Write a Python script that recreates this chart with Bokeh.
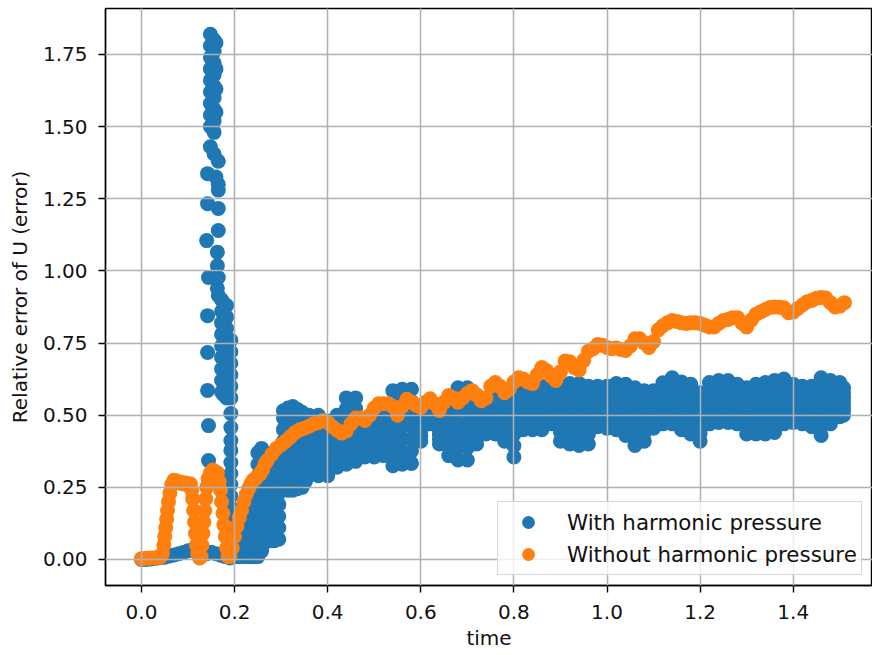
from bokeh.plotting import figure
from bokeh.models import (ColumnDataSource, Range1d, FixedTicker, PrintfTickFormatter,
                          Legend, LegendItem)
from bokeh.embed import file_html
from bokeh.resources import INLINE

# ---------------- data ----------------
x_ticks = [0.0, 0.2, 0.4, 0.6, 0.8, 1.0, 1.2, 1.4]
y_ticks = [0.0, 0.25, 0.5, 0.75, 1.0, 1.25, 1.5, 1.75]
series_names = ["With harmonic pressure", "Without harmonic pressure"]

# "Without harmonic pressure" (orange)
orange_t = [0.000, 0.010, 0.020, 0.030, 0.040, 0.045, 0.048, 0.050, 0.052, 0.054, 0.056, 0.058,
            0.061, 0.065, 0.070, 0.075, 0.080, 0.085, 0.090, 0.095, 0.100, 0.105, 0.108, 0.110,
            0.112, 0.114, 0.116, 0.118, 0.121, 0.125, 0.128, 0.130, 0.132, 0.134, 0.136, 0.138,
            0.140, 0.143, 0.148, 0.153, 0.158, 0.163, 0.167, 0.170, 0.172, 0.175, 0.177, 0.180,
            0.183, 0.186, 0.190, 0.195, 0.200, 0.205, 0.210, 0.215, 0.220, 0.225, 0.230, 0.235,
            0.240, 0.245, 0.250, 0.255, 0.260, 0.265, 0.270, 0.280, 0.290, 0.300, 0.310, 0.320,
            0.330, 0.340, 0.350, 0.360, 0.370, 0.380, 0.390, 0.400, 0.410, 0.420, 0.430, 0.440,
            0.450, 0.460, 0.470, 0.480, 0.490, 0.500, 0.510, 0.520, 0.530, 0.540, 0.550, 0.560,
            0.570, 0.580, 0.590, 0.600, 0.610, 0.620, 0.630, 0.640, 0.650, 0.660, 0.670, 0.680,
            0.690, 0.700, 0.710, 0.720, 0.730, 0.740, 0.750, 0.760, 0.770, 0.780, 0.790, 0.800,
            0.810, 0.820, 0.830, 0.840, 0.850, 0.860, 0.870, 0.880, 0.890, 0.900, 0.910, 0.920,
            0.930, 0.940, 0.950, 0.960, 0.970, 0.980, 0.990, 1.000, 1.010, 1.020, 1.030, 1.040,
            1.050, 1.060, 1.070, 1.080, 1.090, 1.100, 1.110, 1.120, 1.130, 1.140, 1.150, 1.160,
            1.170, 1.180, 1.190, 1.200, 1.210, 1.220, 1.230, 1.240, 1.250, 1.260, 1.270, 1.280,
            1.290, 1.300, 1.310, 1.320, 1.330, 1.340, 1.350, 1.360, 1.370, 1.380, 1.390, 1.400,
            1.410, 1.420, 1.430, 1.440, 1.450, 1.460, 1.470, 1.480, 1.490, 1.500, 1.510]
orange_v = [0.003, 0.004, 0.005, 0.006, 0.008, 0.02, 0.05, 0.08, 0.11, 0.14, 0.17, 0.20,
            0.23, 0.26, 0.275, 0.272, 0.265, 0.268, 0.262, 0.265, 0.258, 0.262, 0.24, 0.21,
            0.17, 0.13, 0.09, 0.05, 0.02, 0.005, 0.01, 0.05, 0.09, 0.13, 0.17, 0.21,
            0.25, 0.28, 0.30, 0.31, 0.305, 0.30, 0.27, 0.24, 0.20, 0.16, 0.12, 0.08,
            0.04, 0.01, 0.01, 0.04, 0.08, 0.115, 0.145, 0.17, 0.20, 0.225, 0.245, 0.262,
            0.275, 0.28, 0.29, 0.297, 0.31, 0.33, 0.343, 0.365, 0.385, 0.398, 0.41, 0.425,
            0.44, 0.45, 0.455, 0.462, 0.47, 0.475, 0.482, 0.475, 0.46, 0.448, 0.438, 0.445,
            0.47, 0.49, 0.49, 0.482, 0.50, 0.525, 0.54, 0.54, 0.54, 0.53, 0.50, 0.53,
            0.555, 0.545, 0.535, 0.527, 0.545, 0.557, 0.54, 0.516, 0.545, 0.568, 0.56, 0.545,
            0.56, 0.575, 0.585, 0.57, 0.55, 0.56, 0.60, 0.613, 0.60, 0.578, 0.59, 0.615,
            0.63, 0.625, 0.615, 0.61, 0.64, 0.665, 0.655, 0.635, 0.62, 0.65, 0.688, 0.685,
            0.665, 0.657, 0.69, 0.722, 0.73, 0.745, 0.742, 0.735, 0.73, 0.733, 0.728, 0.724,
            0.74, 0.765, 0.765, 0.75, 0.735, 0.755, 0.795, 0.81, 0.82, 0.828, 0.825, 0.82,
            0.818, 0.82, 0.82, 0.818, 0.812, 0.806, 0.806, 0.818, 0.828, 0.832, 0.838, 0.838,
            0.82, 0.806, 0.83, 0.85, 0.858, 0.866, 0.873, 0.875, 0.874, 0.872, 0.855, 0.858,
            0.87, 0.882, 0.893, 0.898, 0.905, 0.908, 0.906, 0.89, 0.875, 0.878, 0.89]

# "With harmonic pressure" (blue): near-zero start
blue_base_t = [0.00, 0.01, 0.02, 0.03, 0.04, 0.05, 0.06, 0.07, 0.08, 0.09,
               0.10, 0.11, 0.12, 0.13, 0.14, 0.15, 0.16, 0.17, 0.18, 0.19]
blue_base_v = [0.0, 0.0, 0.002, 0.004, 0.006, 0.008, 0.012, 0.016, 0.02, 0.024,
               0.03, 0.034, 0.03, 0.025, 0.02, 0.025, 0.02, 0.015, 0.01, 0.005]

# blue: spike and early rise, values read per time column
blue_col_t = [0.140, 0.142, 0.144, 0.148, 0.156, 0.160, 0.163, 0.165, 0.172, 0.177, 0.183, 0.192,
              0.200, 0.210, 0.220, 0.230, 0.240, 0.250, 0.258, 0.266, 0.275, 0.285, 0.295,
              0.305, 0.315, 0.325, 0.335, 0.345, 0.352]
blue_col_v = [
    [1.105],
    [1.337, 1.233, 0.845, 0.717, 0.586],
    [0.977, 0.464, 0.343],
    [1.82, 1.78, 1.74, 1.70, 1.66, 1.62, 1.58, 1.54, 1.50, 1.43],
    [1.80, 1.76, 1.72, 1.68, 1.64, 1.60, 1.56, 1.52, 1.48, 1.405],
    [1.79, 1.70, 1.63, 1.55, 1.325],
    [1.065, 1.018, 0.94],
    [1.38, 1.30, 1.28, 1.216, 1.14, 0.977, 0.915],
    [0.90, 0.86, 0.82, 0.78, 0.74, 0.70, 0.66, 0.62, 0.58],
    [0.887, 0.85, 0.81, 0.77, 0.73, 0.69, 0.65, 0.61, 0.57],
    [0.88, 0.84, 0.80, 0.76, 0.72, 0.68, 0.64, 0.60, 0.56],
    [0.76, 0.72, 0.68, 0.64, 0.60, 0.56, 0.506, 0.457, 0.412, 0.378, 0.336, 0.298,
     0.26, 0.22, 0.18, 0.14, 0.10, 0.06, 0.02],
    [0.01, 0.04],
    [0.01, 0.05, 0.09, 0.12],
    [0.01, 0.05, 0.09, 0.13, 0.17],
    [0.01, 0.05, 0.09, 0.13, 0.17, 0.21],
    [0.01, 0.05, 0.09, 0.13, 0.17, 0.21, 0.24],
    [0.01, 0.05, 0.09, 0.13, 0.17, 0.21, 0.25, 0.29, 0.33, 0.37],
    [0.03, 0.07, 0.11, 0.15, 0.19, 0.23, 0.27, 0.31, 0.35, 0.385],
    [0.06, 0.10, 0.14, 0.18, 0.22, 0.26, 0.30, 0.34, 0.37],
    [0.065, 0.10, 0.14, 0.18, 0.22, 0.26, 0.30, 0.34],
    [0.065, 0.10, 0.14, 0.18, 0.22, 0.26, 0.30, 0.34, 0.37],
    [0.07, 0.11, 0.15, 0.19, 0.23, 0.27, 0.31, 0.35, 0.38],
    [0.25, 0.29, 0.33, 0.37, 0.41, 0.45, 0.49, 0.515],
    [0.24, 0.28, 0.32, 0.36, 0.40, 0.44, 0.48, 0.525],
    [0.24, 0.28, 0.32, 0.36, 0.40, 0.44, 0.48, 0.53],
    [0.245, 0.285, 0.325, 0.365, 0.405, 0.445, 0.485, 0.52],
    [0.25, 0.29, 0.33, 0.37, 0.41, 0.45, 0.49, 0.51],
    [0.27, 0.31, 0.35, 0.39, 0.43, 0.47, 0.50],
]

# blue: main band, read from top edge (r1) to bottom edge (r7)
band_t = [0.36, 0.38, 0.40, 0.42, 0.44, 0.46, 0.48, 0.50, 0.52, 0.54, 0.56, 0.58, 0.60, 0.62,
          0.64, 0.66, 0.68, 0.70, 0.72, 0.74, 0.76, 0.78, 0.80, 0.82, 0.84, 0.86, 0.88, 0.90,
          0.92, 0.94, 0.96, 0.98, 1.00, 1.02, 1.04, 1.06, 1.08, 1.10, 1.12, 1.14, 1.16, 1.18,
          1.20, 1.22, 1.24, 1.26, 1.28, 1.30, 1.32, 1.34, 1.36, 1.38, 1.40, 1.42, 1.44, 1.46,
          1.48, 1.50, 1.508]
band_r1 = [.50, .50, .48, .50, .56, .56, .48, .50, .50, .585, .59, .59, .52, .53, .50, .54, .595, .595,
           .57, .54, .58, .56, .59, .60, .60, .60, .60, .60, .61, .61, .60, .60, .60, .61, .607, .595,
           .585, .585, .612, .63, .615, .607, .578, .613, .62, .62, .607, .595, .607, .613, .62, .625,
           .607, .60, .60, .63, .62, .613, .595]
band_r2 = [.465, .465, .448, .47, .522, .523, .459, .476, .477, .542, .547, .547, .502, .52, .483, .51,
           .553, .553, .542, .523, .556, .535, .551, .575, .575, .575, .578, .568, .575, .574, .567,
           .577, .576, .583, .577, .562, .556, .563, .588, .603, .588, .578, .55, .589, .596, .596,
           .584, .568, .578, .583, .59, .599, .585, .578, .577, .597, .595, .593, .579]
band_r3 = [.43, .43, .417, .44, .483, .487, .438, .452, .453, .498, .503, .504, .483, .51, .467, .48,
           .512, .512, .513, .505, .532, .51, .512, .55, .55, .55, .557, .537, .54, .538, .533, .553,
           .552, .557, .548, .528, .527, .542, .565, .577, .56, .55, .522, .565, .572, .572, .561,
           .542, .55, .554, .56, .573, .563, .557, .553, .563, .57, .574, .563]
band_r4 = [.395, .395, .385, .41, .445, .45, .418, .428, .43, .455, .46, .462, .465, .50, .45, .45,
           .47, .47, .485, .488, .508, .485, .473, .525, .525, .525, .535, .505, .505, .503, .50, .53,
           .528, .53, .519, .495, .498, .52, .541, .55, .533, .521, .494, .542, .548, .548, .539,
           .515, .521, .524, .53, .548, .541, .535, .53, .53, .545, .554, .548]
band_r5 = [.36, .36, .353, .38, .407, .413, .397, .403, .407, .412, .417, .419, .447, .49, .433, .42,
           .428, .428, .457, .47, .483, .46, .433, .50, .50, .50, .513, .473, .47, .467, .467, .507,
           .503, .503, .489, .462, .468, .498, .517, .523, .505, .492, .466, .518, .523, .523, .516,
           .488, .492, .494, .50, .522, .519, .513, .507, .497, .52, .534, .532]
band_r6 = [.325, .325, .322, .35, .368, .377, .376, .379, .383, .368, .373, .376, .428, .48, .417, .39,
           .387, .387, .428, .453, .459, .435, .394, .475, .475, .475, .492, .442, .435, .431, .433,
           .483, .479, .477, .46, .428, .439, .477, .494, .497, .478, .464, .438, .494, .499, .499,
           .493, .462, .464, .465, .47, .496, .497, .492, .483, .463, .495, .515, .516]
band_r7 = [.29, .29, .29, .32, .33, .34, .355, .355, .36, .325, .33, .333, .41, .47, .40, .36, .345,
           .345, .40, .435, .435, .41, .355, .45, .45, .45, .47, .41, .40, .395, .40, .46, .455, .45,
           .43, .395, .41, .455, .47, .47, .45, .435, .41, .47, .475, .475, .47, .435, .435, .435,
           .44, .47, .475, .47, .46, .43, .47, .495, .50]

# ---------------- assemble sources ----------------
blue_x = list(blue_base_t)
blue_y = list(blue_base_v)
for t, vals in zip(blue_col_t, blue_col_v):
    blue_x += [t] * len(vals)
    blue_y += list(vals)
for row in (band_r1, band_r2, band_r3, band_r4, band_r5, band_r6, band_r7):
    blue_x += list(band_t)
    blue_y += list(row)

blue_src = ColumnDataSource(dict(x=blue_x, y=blue_y))
orange_src = ColumnDataSource(dict(x=orange_t, y=orange_v))

FONT = "DejaVu Sans"
BLUE = "#1f77b4"
ORANGE = "#ff7f0e"

p = figure(width=872, height=655, output_backend="svg", toolbar_location=None,
           x_range=Range1d(-0.0773, 1.5703), y_range=Range1d(-0.0901, 1.9092),
           min_border_left=105, min_border_right=0, min_border_top=8, min_border_bottom=70,
           background_fill_color="white", border_fill_color="white")
p.title.visible = False

rb = p.scatter("x", "y", source=blue_src, size=15, fill_color=BLUE, line_color=None)
ro = p.scatter("x", "y", source=orange_src, size=15, fill_color=ORANGE, line_color=None)

p.xaxis.ticker = FixedTicker(ticks=x_ticks)
p.yaxis.ticker = FixedTicker(ticks=y_ticks)
p.xaxis.formatter = PrintfTickFormatter(format="%.1f")
p.yaxis.formatter = PrintfTickFormatter(format="%.2f")
p.xaxis.axis_label = "time"
p.yaxis.axis_label = "Relative error of U (error)"

for ax in (p.xaxis[0], p.yaxis[0]):
    ax.axis_line_color = "black"
    ax.axis_line_width = 1.4
    ax.major_tick_line_color = "black"
    ax.major_tick_line_width = 1.4
    ax.major_tick_out = 7
    ax.major_tick_in = 0
    ax.minor_tick_line_color = None
    ax.major_label_text_font = FONT
    ax.major_label_text_font_size = "20px"
    ax.major_label_text_color = "#111111"
    ax.axis_label_text_font = FONT
    ax.axis_label_text_font_size = "20px"
    ax.axis_label_text_font_style = "normal"
    ax.axis_label_text_color = "#111111"

p.xaxis[0].major_label_standoff = 12
p.xaxis[0].axis_label_standoff = 4
p.yaxis[0].major_label_standoff = 11
p.yaxis[0].axis_label_standoff = 8

for g in (p.xgrid[0], p.ygrid[0]):
    g.grid_line_color = "#b0b0b0"
    g.grid_line_width = 1.5
    g.level = "guide"

p.outline_line_color = "black"
p.outline_line_width = 1.4
p.outline_line_alpha = 1.0

legend = Legend(items=[LegendItem(label=series_names[0], renderers=[rb]),
                       LegendItem(label=series_names[1], renderers=[ro])],
                location=(392, 10), orientation="vertical",
                label_text_font=FONT, label_text_font_size="21.4px", label_text_color="#111111",
                glyph_width=52, glyph_height=32, label_standoff=13, padding=4, spacing=0,
                margin=0, background_fill_color="white", background_fill_alpha=0.8,
                border_line_color="#cccccc", border_line_alpha=0.8, border_line_width=1.4)
p.add_layout(legend)

open("out.html", "w").write(file_html(p, INLINE))
